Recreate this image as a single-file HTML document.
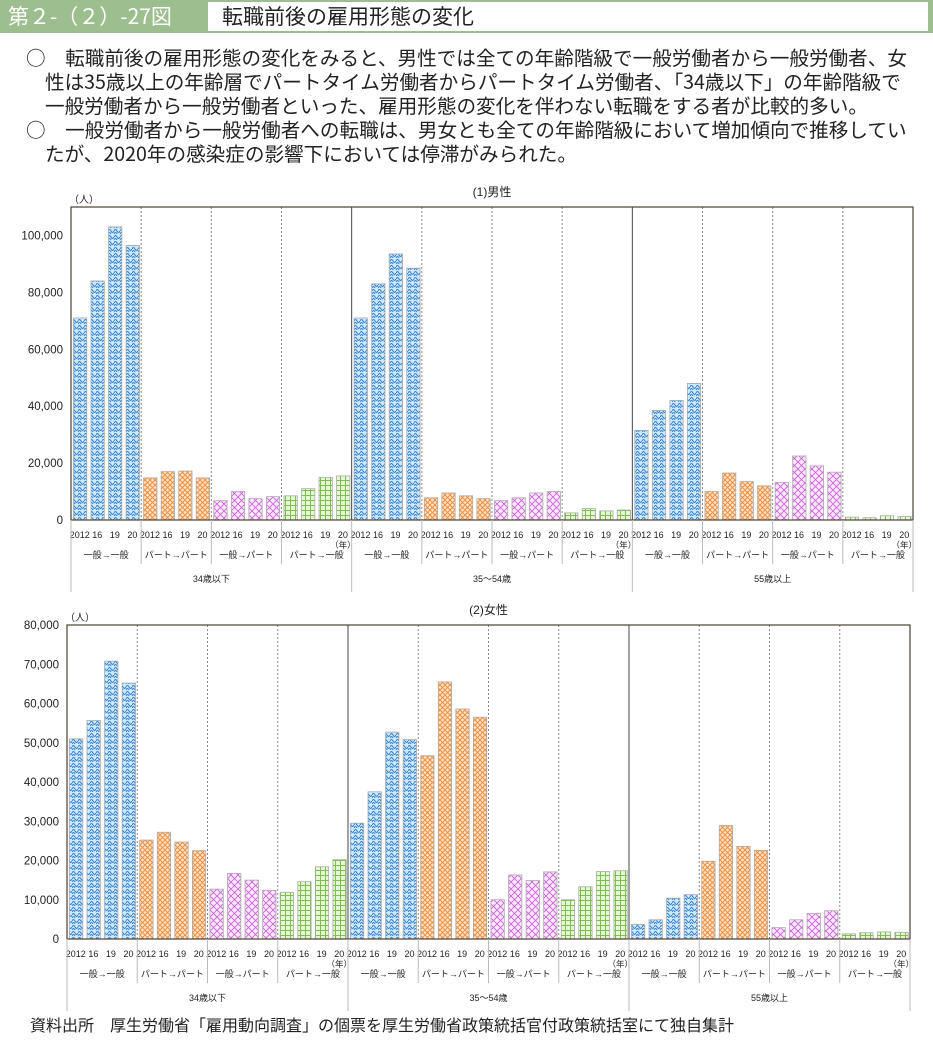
<!DOCTYPE html>
<html><head><meta charset="utf-8">
<style>
body{margin:0;width:933px;height:1048px;background:#fff;position:relative;overflow:hidden;font-family:"Liberation Sans","Noto Sans CJK JP",sans-serif;}
#hdr{position:absolute;left:0;top:0;width:933px;height:33px;background:#9dbf8f;}
#fig{position:absolute;left:8px;top:1px;color:#fff;font-size:21px;line-height:30px;font-family:"Noto Sans CJK JP",sans-serif;}
#ttl{position:absolute;left:208px;top:2px;width:720px;height:29px;background:#fff;font-size:21px;line-height:29px;padding-left:14px;box-sizing:border-box;color:#222;font-family:"Noto Sans CJK JP",sans-serif;}
#txt{position:absolute;left:26px;top:45px;width:905px;font-size:19.6px;line-height:24px;color:#222;font-family:"Noto Sans CJK JP",sans-serif;white-space:nowrap;}
#txt div{height:24px;}
.ind{padding-left:19px;}
#src{position:absolute;left:30px;top:1012px;font-size:16px;color:#222;font-family:"Noto Sans CJK JP",sans-serif;}
svg{position:absolute;left:0;top:0;}
</style></head><body>
<div id="hdr"><div id="fig">第２-（２）-27図</div><div id="ttl">転職前後の雇用形態の変化</div></div>
<div id="txt">
<div>○　転職前後の雇用形態の変化をみると、男性では全ての年齢階級で一般労働者から一般労働者、女</div>
<div class="ind">性は35歳以上の年齢層でパートタイム労働者からパートタイム労働者、「34歳以下」の年齢階級で</div>
<div class="ind">一般労働者から一般労働者といった、雇用形態の変化を伴わない転職をする者が比較的多い。</div>
<div>○　一般労働者から一般労働者への転職は、男女とも全ての年齢階級において増加傾向で推移してい</div>
<div class="ind">たが、2020年の感染症の影響下においては停滞がみられた。</div>
</div>
<svg id="chart" width="933" height="1048">
<defs>
<pattern id="p0" width="6" height="6" patternUnits="userSpaceOnUse"><rect width="6" height="6" fill="#cfe6fb"/><path d="M0 3 Q1.5 0 3 3 T6 3 M0 6 Q1.5 3 3 6 T6 6" stroke="#2a7fd6" fill="none" stroke-width="1"/></pattern>
<pattern id="p1" width="5" height="5" patternUnits="userSpaceOnUse"><rect width="5" height="5" fill="#fde3cc"/><path d="M0 0L5 5M5 0L0 5" stroke="#f0903e" stroke-width="1"/></pattern>
<pattern id="p2" width="7" height="7" patternUnits="userSpaceOnUse"><rect width="7" height="7" fill="#fbeafd"/><path d="M0 0L7 7M7 0L0 7" stroke="#d060e0" stroke-width="0.9"/></pattern>
<pattern id="p3" width="5" height="5" patternUnits="userSpaceOnUse"><rect width="5" height="5" fill="#e6f6d6"/><path d="M0 .5H5M.5 0V5" stroke="#7cc04c" stroke-width="1"/></pattern>
</defs>
</svg>
<div id="src">資料出所　厚生労働省「雇用動向調査」の個票を厚生労働省政策統括官付政策統括室にて独自集計</div>
<script>
const years=["2012","16","19","20"];
const flows=["一般→一般","パート→パート","一般→パート","パート→一般"];
const ages=["34歳以下","35～54歳","55歳以上"];
const maleTicks=[0,20000,40000,60000,80000,100000];
const femaleTicks=[0,10000,20000,30000,40000,50000,60000,70000,80000];
const male34=[71000,84000,103000,96500, 14800,17000,17200,14800, 6800,10000,7500,8200, 8500,11000,15000,15500];
const male35=[71000,83000,93500,88500, 7800,9500,8500,7500, 6800,7800,9500,10000, 2500,4000,3200,3500];
const male55=[31500,38500,42000,48000, 10000,16500,13500,12000, 13200,22500,19000,16800, 1000,800,1500,1200];
const fem34=[51000,55700,70800,65200, 25200,27200,24700,22500, 12700,16700,15000,12400, 11900,14600,18400,20200];
const fem35=[29500,37500,52700,50800, 46700,65500,58600,56500, 10000,16300,14900,17100, 10000,13300,17200,17400];
const fem55=[3700,4900,10400,11300, 19800,28900,23600,22600, 2900,4900,6500,7200, 1300,1600,1800,1700];
const svg=document.getElementById('chart');const NS='http://www.w3.org/2000/svg';
function mk(t,a,txt){const e=document.createElementNS(NS,t);for(const k in a)e.setAttribute(k,a[k]);if(txt!==undefined)e.textContent=txt;svg.appendChild(e);return e;}
function draw(cfg){
 const {x0,x1,top,zero,max,ticks,series,title,name,fmt}=cfg;
 const y=v=>zero-(v/max)*(zero-top);
 const gw=(x1-x0)/12;
 let t=mk('text',{x:(x0+x1)/2,y:top-11,'font-size':12,'text-anchor':'middle',fill:'#222'},title);
 
 t=mk('text',{x:x0-2,y:top-4,'font-size':10,fill:'#222'},'（人）');
 
 ticks.forEach(v=>{const e=mk('text',{x:x0-8,y:y(v)+4,'font-size':fmt,'text-anchor':'end',fill:'#222'},v.toLocaleString('en-US'));
  });
 for(let g=1;g<12;g++){const gx=x0+g*gw;
  if(g%4){const l=mk('line',{x1:gx,x2:gx,y1:top,y2:zero,stroke:'#888','stroke-dasharray':'2,2','stroke-width':1});}
  else{const l=mk('line',{x1:gx,x2:gx,y1:top,y2:zero,stroke:'#444','stroke-width':1});}}
 series.forEach((vals,a)=>{vals.forEach((v,i)=>{const g=a*4+Math.floor(i/4),k=i%4;
  const bw=gw/4;const bx=x0+g*gw+k*bw+bw*0.14;
  const r=mk('rect',{x:bx,y:y(v),width:bw*0.76,height:zero-y(v),fill:'url(#p'+Math.floor(i/4)+')',stroke:'#aaa','stroke-width':0.8});
  });});
 const f=mk('rect',{x:x0,y:top,width:x1-x0,height:zero-top,fill:'none',stroke:'#4a4030','stroke-width':1.2});
 
 for(let g=0;g<12;g++){const gx=x0+g*gw,bw=gw/4;
  years.forEach((yr,k)=>{const e=mk('text',{x:gx+k*bw+bw/2,y:zero+18,'font-size':9,'text-anchor':'middle',fill:'#222'},yr);});
  if(g%4==3){const e=mk('text',{x:gx+3.5*bw,y:zero+28,'font-size':8.5,'text-anchor':'middle',fill:'#222'},'（年）');}
  const e=mk('text',{x:gx+gw/2,y:zero+38,'font-size':9,'text-anchor':'middle',fill:'#222'},flows[g%4]);
  if(g>0&&g%4){const l=mk('line',{x1:gx,x2:gx,y1:zero,y2:zero+44,stroke:'#bbb'});}
 }
 for(let a=0;a<=3;a++){const gx=x0+a*4*gw;const l=mk('line',{x1:gx,x2:gx,y1:zero,y2:zero+72,stroke:'#bbb'});}
 ages.forEach((ag,a)=>{const e=mk('text',{x:x0+(a*4+2)*gw,y:zero+62,'font-size':9,'text-anchor':'middle',fill:'#222'},ag);});
}
draw({x0:71,x1:913,top:207,zero:520,max:110000,ticks:maleTicks,series:[male34,male35,male55],title:'(1)男性',name:'male-chart',fmt:11.5});
draw({x0:67,x1:910,top:625,zero:939,max:80000,ticks:femaleTicks,series:[fem34,fem35,fem55],title:'(2)女性',name:'female-chart',fmt:11.5});
</script>
</body></html>
